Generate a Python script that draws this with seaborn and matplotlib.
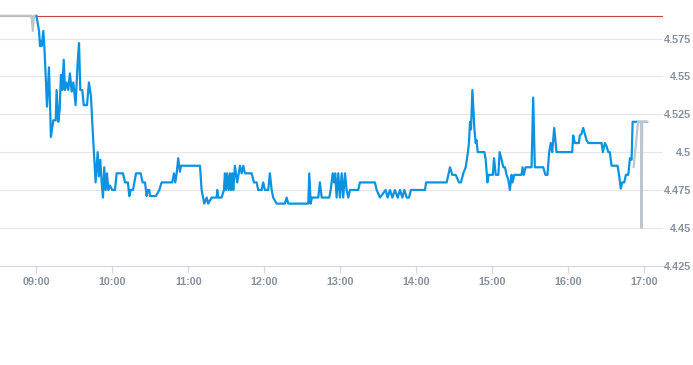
#!/usr/bin/env python
# -*- coding: utf-8 -*-

"""
Intraday price line: pre-market, session and after-hours, with previous close.
"""
import pandas as pd
import matplotlib
matplotlib.use("Agg")
import matplotlib.pyplot as plt
import matplotlib.dates as mdates
from matplotlib.ticker import FixedLocator, FuncFormatter
import seaborn as sns

# Data #

DAY = "2024-01-02 09:00"

# minutes after 09:00
session_minutes = [
    0, 2.0, 2.8, 3.6, 4.1, 5.4, 6.2, 7.3, 8.3, 9.9, 11.4, 13.3, 15.2, 15.9, 17.2, 18.3,
    19.3, 20.4, 21.5, 22.5, 23.8, 25.1, 26.4, 27.8, 29.1, 30.9, 32.5, 33.6, 34.6, 36.2,
    37.3, 39.9, 41.4, 43.0, 44.8, 46.7, 48.3, 49.3, 50.4, 51.5, 52.5, 53.5, 54.6, 55.7,
    56.7, 58.0, 59.8, 62.0, 63.3, 68.3, 69.9, 72.2, 73.3, 74.4, 76.2, 78.6, 82.3, 83.8,
    85.7, 87.0, 87.8, 89.1, 89.6, 94.3, 97.0, 98.8, 107.2, 108.6, 109.6, 110.7, 111.9,
    113.3, 114.1, 129.1, 130.4, 132.5, 134.4, 135.6, 138.3, 142.3, 142.7, 143.5, 146.2,
    148.0, 148.8, 149.6, 150.6, 151.7, 152.8, 153.6, 154.6, 155.4, 156.7, 158.5, 160.7,
    162.0, 163.3, 164.6, 169.9, 171.7, 173.8, 175.1, 177.8, 179.0, 180.4, 183.0, 184.3,
    185.7, 186.9, 189.6, 196.2, 197.5, 198.8, 214.6, 215.4, 216.5, 217.5, 222.5, 223.8,
    225.2, 231.2, 232.3, 233.9, 234.9, 235.9, 237.0, 238.3, 239.6, 241.0, 242.2, 243.6,
    244.9, 246.2, 247.5, 254.1, 255.4, 267.2, 268.6, 271.2, 275.7, 277.3, 279.1, 281.0,
    283.0, 285.2, 287.0, 288.9, 290.5, 292.3, 294.1, 295.7, 306.8, 307.6, 323.9, 325.2,
    326.5, 328.3, 331.0, 333.6, 335.2, 337.0, 338.9, 340.5, 341.5, 342.3, 343.1, 344.2,
    345.8, 346.8, 347.4, 348.4, 353.7, 354.7, 356.1, 356.9, 360.3, 361.3, 362.6, 364.7,
    365.7, 367.3, 368.6, 369.9, 371.2, 372.5, 373.8, 375.1, 375.9, 377.3, 383.0, 383.8,
    384.8, 386.2, 390.9, 392.2, 393.5, 400.1, 401.9, 403.5, 404.8, 406.1, 407.2, 408.8,
    410.6, 423.0, 423.8, 425.1, 428.3, 429.0, 430.4, 431.7, 433.0, 434.3, 435.7, 446.2,
    447.2, 448.8, 450.1, 451.5, 452.7, 454.1, 458.8, 459.8, 460.6, 461.4, 462.5, 464.1,
    465.4, 467.3, 468.6, 469.9, 470.7, 481.8,
]
session_prices = [
    4.590, 4.580, 4.570, 4.573, 4.570, 4.580, 4.570, 4.550, 4.530, 4.556, 4.510, 4.521,
    4.521, 4.541, 4.520, 4.528, 4.551, 4.541, 4.561, 4.541, 4.546, 4.541, 4.552, 4.540,
    4.546, 4.531, 4.559, 4.572, 4.541, 4.541, 4.531, 4.531, 4.546, 4.537, 4.508, 4.480,
    4.500, 4.484, 4.495, 4.480, 4.470, 4.490, 4.475, 4.486, 4.475, 4.478, 4.475, 4.475,
    4.486, 4.486, 4.480, 4.480, 4.471, 4.475, 4.475, 4.486, 4.486, 4.480, 4.480, 4.471,
    4.475, 4.475, 4.471, 4.471, 4.475, 4.480, 4.480, 4.486, 4.480, 4.486, 4.496, 4.487,
    4.491, 4.491, 4.475, 4.466, 4.470, 4.466, 4.470, 4.470, 4.475, 4.470, 4.470, 4.475,
    4.486, 4.475, 4.486, 4.475, 4.486, 4.475, 4.486, 4.475, 4.491, 4.480, 4.491, 4.486,
    4.491, 4.486, 4.486, 4.480, 4.480, 4.475, 4.475, 4.480, 4.475, 4.475, 4.486, 4.475,
    4.470, 4.466, 4.466, 4.470, 4.466, 4.466, 4.486, 4.466, 4.470, 4.470, 4.480, 4.470,
    4.470, 4.475, 4.486, 4.480, 4.486, 4.470, 4.486, 4.470, 4.486, 4.470, 4.486, 4.475,
    4.470, 4.475, 4.475, 4.480, 4.480, 4.475, 4.470, 4.475, 4.470, 4.475, 4.470, 4.475,
    4.470, 4.475, 4.470, 4.475, 4.470, 4.470, 4.475, 4.475, 4.480, 4.480, 4.485, 4.490,
    4.485, 4.485, 4.480, 4.480, 4.486, 4.490, 4.499, 4.506, 4.520, 4.515, 4.541, 4.515,
    4.506, 4.508, 4.500, 4.500, 4.495, 4.480, 4.485, 4.485, 4.496, 4.485, 4.485, 4.500,
    4.495, 4.490, 4.490, 4.485, 4.482, 4.475, 4.485, 4.480, 4.485, 4.485, 4.490, 4.485,
    4.490, 4.490, 4.536, 4.490, 4.490, 4.485, 4.485, 4.500, 4.506, 4.500, 4.516, 4.500,
    4.500, 4.511, 4.506, 4.506, 4.511, 4.512, 4.516, 4.512, 4.508, 4.506, 4.506, 4.500,
    4.506, 4.504, 4.500, 4.500, 4.491, 4.491, 4.486, 4.481, 4.476, 4.480, 4.480, 4.485,
    4.485, 4.496, 4.495, 4.520, 4.520,
]

pre_minutes = [-28.8, -3.9, -2.9, -2.0, 0.0]
pre_prices = [4.59, 4.59, 4.58, 4.59, 4.59]

post_minutes = [471.5, 475.0, 477.3, 477.8, 478.3, 482.5]
post_prices = [4.49, 4.52, 4.52, 4.45, 4.52, 4.52]

prev_close = 4.59

y_ticks = [4.425, 4.45, 4.475, 4.5, 4.525, 4.55, 4.575]
x_ticks = ["09:00", "10:00", "11:00", "12:00", "13:00", "14:00", "15:00", "16:00", "17:00"]


def to_frame(minutes, prices):
    start = pd.Timestamp(DAY)
    return pd.DataFrame({
        "time": start + pd.to_timedelta(minutes, unit="min"),
        "price": prices,
    })


def plot_intraday(out_name="out.png"):
    sns.set_theme(style="white")
    plt.rcParams["font.family"] = ["Liberation Sans", "DejaVu Sans"]

    fig = plt.figure(figsize=(6.93, 3.65), dpi=100)
    ax = fig.add_axes([0.0, 0.272, 663 / 693, 0.7005])

    label_color = "#8592a1"
    day = pd.Timestamp(DAY).normalize()

    ax.axhline(prev_close, color="#c8453c", lw=0.8, zorder=2)
    sns.lineplot(data=to_frame(pre_minutes, pre_prices), x="time", y="price", ax=ax,
                 color="#bcc6ce", lw=1.6, sort=False, estimator=None, zorder=3)
    sns.lineplot(data=to_frame(session_minutes, session_prices), x="time", y="price", ax=ax,
                 color="#0b93e2", lw=1.6, sort=False, estimator=None, zorder=4)
    sns.lineplot(data=to_frame(post_minutes, post_prices), x="time", y="price", ax=ax,
                 color="#bcc6ce", lw=1.6, sort=False, estimator=None, zorder=5)

    ax.set_xlim(pd.Timestamp(DAY) - pd.Timedelta(minutes=28.8),
                pd.Timestamp(DAY) + pd.Timedelta(minutes=494.7))
    ax.set_ylim(4.425, 4.5938)

    # x axis
    tick_times = [day + pd.Timedelta(t + ":00") for t in x_ticks]
    ax.xaxis.set_major_locator(FixedLocator(mdates.date2num(tick_times)))
    ax.xaxis.set_major_formatter(mdates.DateFormatter("%H:%M"))
    ax.tick_params(axis="x", bottom=True, length=5, width=0.8, color="#ccd6eb",
                   labelsize=7.8, labelcolor=label_color, pad=3)
    for lab in ax.get_xticklabels():
        lab.set_fontweight("bold")

    # y axis on the right, right-aligned labels
    ax.yaxis.tick_right()
    ax.set_yticks(y_ticks)
    ax.yaxis.set_major_formatter(FuncFormatter(lambda v, p: "{:g}".format(round(v, 3))))
    ax.tick_params(axis="y", right=False, length=0, labelsize=7.8,
                   labelcolor=label_color, pad=20)
    for lab in ax.get_yticklabels():
        lab.set_horizontalalignment("right")
        lab.set_fontweight("bold")

    ax.grid(axis="y", color="#e6e6e6", lw=0.8, zorder=0)
    ax.grid(axis="x", visible=False)
    ax.set_axisbelow(True)

    for side in ["top", "left", "right"]:
        ax.spines[side].set_visible(False)
    ax.spines["bottom"].set_color("#ccd6eb")
    ax.spines["bottom"].set_linewidth(0.8)

    ax.set_xlabel("")
    ax.set_ylabel("")
    if ax.get_legend() is not None:
        ax.get_legend().remove()

    fig.savefig(out_name, dpi=100, facecolor="white")
    print("Wrote file: {}".format(out_name))


if __name__ == "__main__":
    plot_intraday()
